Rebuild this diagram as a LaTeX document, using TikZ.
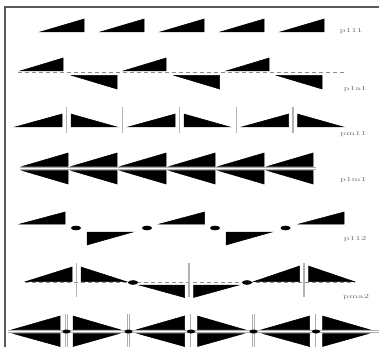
\documentclass[tikz,border=0pt]{standalone}
\usepackage{graphicx}
\begin{document}
\begin{tikzpicture}[x=1pt,y=-1pt,
  tri/.style={fill=black,draw=black,line width=0.5pt,line join=miter},
  mirrorline/.style={draw=black!30,line width=1.6pt},
  mirrordouble/.style={draw=black!32,line width=0.7pt,double=white,double distance=0.9pt},
  glideline/.style={draw=black!45,line width=0.8pt,dash pattern=on 4pt off 3pt},
  rotdot/.style={fill=black,draw=none},
  framebox/.style={draw=black!65,line width=1.6pt},
  lbl/.style={text=black!55,inner sep=0pt,font=\fontsize{6}{7}\selectfont}]
\useasboundingbox (0,0) rectangle (379,347);
\fill[white] (0,0) rectangle (379,347);
% frame
\draw[framebox] (5,347) -- (5,7) -- (379,7);

% ---- p111
\foreach \a in {40,100,160,220,280}
  \draw[tri] (\a,32) -- (\a+44,32) -- (\a+44,19) -- cycle;
\node[lbl] (l1) at (351,31) {\scalebox{1.5}[1]{p111}};

% ---- p1a1
\draw[glideline] (18,72.5) -- (345,72.5);
\foreach \a in {20,123,226}
  \draw[tri] (\a,71) -- (\a+43,71) -- (\a+43,58) -- cycle;
\foreach \a in {72,174.5,277}
  \draw[tri] (\a,75.5) -- (\a+45,75.5) -- (\a+45,89) -- cycle;
\node[lbl] (l2) at (355,89) {\scalebox{1.5}[1]{p1a1}};

% ---- pm11
\foreach \m in {66.5,122.5,179.5,236.5,293}
  \draw[mirrorline] (\m,107) -- (\m,133);
\foreach \m in {66.5,179.5,293}{
  \draw[tri] (\m-51.5,127) -- (\m-4.5,127) -- (\m-4.5,114) -- cycle;
  \draw[tri] (\m+4.5,127) -- (\m+50.5,127) -- (\m+4.5,114) -- cycle;}
\node[lbl] (l3) at (353,134) {\scalebox{1.5}[1]{pm11}};

% ---- p1m1
\draw[mirrordouble] (20,168.5) -- (316,168.5);
\foreach \a in {22,71,120,169,218,267}{
  \draw[tri] (\a,166.5) -- (\a+46,166.5) -- (\a+46,153) -- cycle;
  \draw[tri] (\a,170.5) -- (\a+46,170.5) -- (\a+46,184) -- cycle;}
\node[lbl] (l4) at (353,180) {\scalebox{1.5}[1]{p1m1}};

% ---- p112
\foreach \a in {20,159.5,299}
  \draw[tri] (\a,224) -- (\a+45,224) -- (\a+45,212) -- cycle;
\foreach \a in {87,226}
  \draw[tri] (\a,232) -- (\a+46,232) -- (\a,245) -- cycle;
\foreach \d in {76,147,215,285.5}
  \fill[rotdot] (\d,228) ellipse (5pt and 2.3pt);
\node[lbl] (l5) at (355,239) {\scalebox{1.5}[1]{p112}};

% ---- pma2
\draw[glideline] (25,282.5) -- (355,282.5);
\foreach \m in {76.5,189,304}
  \draw[mirrorline] (\m,263) -- (\m,297);
\draw[tri] (26,281.5) -- (72,281.5) -- (72,267) -- cycle;
\draw[tri] (81,281.5) -- (126,281.5) -- (81,267) -- cycle;
\draw[tri] (254,281.5) -- (299.5,281.5) -- (299.5,266) -- cycle;
\draw[tri] (308.5,281.5) -- (354,281.5) -- (308.5,266) -- cycle;
\draw[tri] (139,285) -- (184.5,285) -- (184.5,297.5) -- cycle;
\draw[tri] (193.5,285) -- (239,285) -- (193.5,297.5) -- cycle;
\foreach \d in {133,247}
  \fill[rotdot] (\d,282.5) ellipse (5pt and 2.3pt);
\node[lbl] (l6) at (356,297) {\scalebox{1.5}[1]{pma2}};

% ---- pmm2
\draw[mirrordouble] (8,331.5) -- (379,331.5);
\foreach \m in {66.5,128.5,191,253.5,316}
  \draw[mirrordouble] (\m,314) -- (\m,347);
\foreach \m in {66.5,191,316}{
  \draw[tri] (\m-53.5,329.5) -- (\m-6.5,329.5) -- (\m-6.5,316) -- cycle;
  \draw[tri] (\m-53.5,333.5) -- (\m-6.5,333.5) -- (\m-6.5,346.5) -- cycle;
  \draw[tri] (\m+6.5,329.5) -- (\m+53,329.5) -- (\m+6.5,316) -- cycle;
  \draw[tri] (\m+6.5,333.5) -- (\m+53,333.5) -- (\m+6.5,346.5) -- cycle;}
\foreach \d in {66.5,128.5,191,253.5,316}
  \fill[rotdot] (\d,331.5) ellipse (4pt and 2pt);
\end{tikzpicture}
\end{document}
